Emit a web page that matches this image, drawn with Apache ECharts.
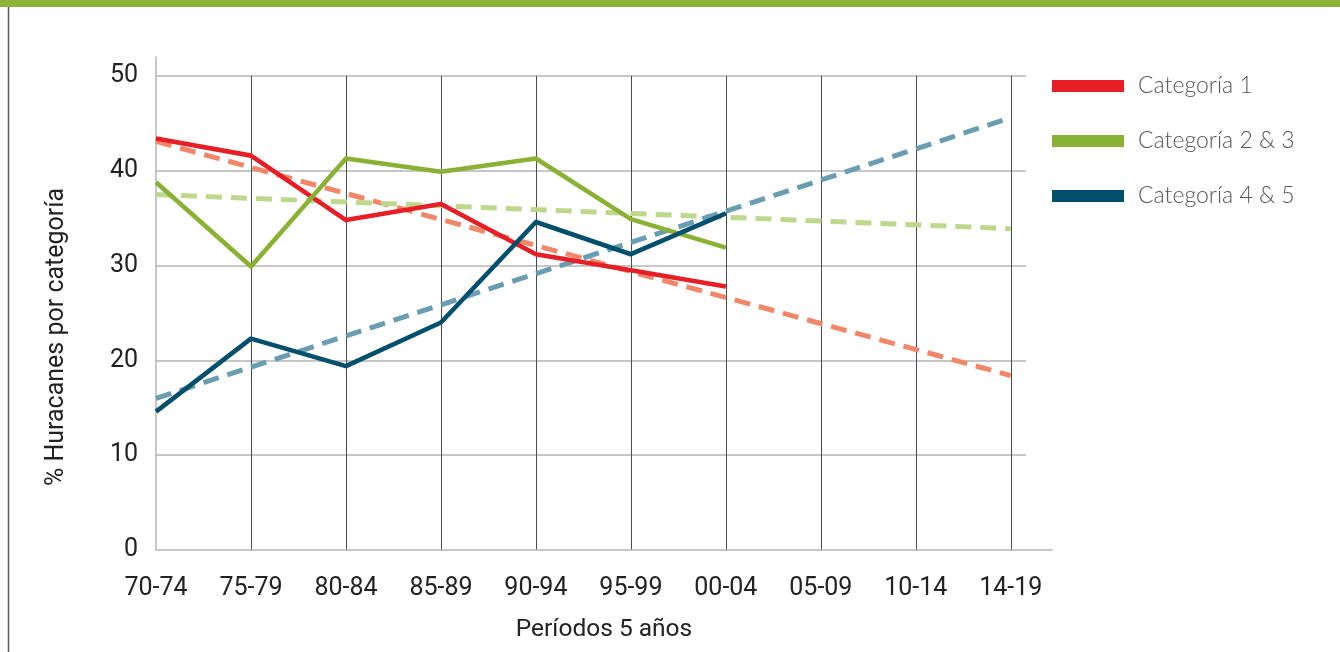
<!DOCTYPE html>
<html>
<head>
<meta charset="utf-8">
<script src="https://cdn.jsdelivr.net/npm/echarts@6/dist/echarts.min.js"></script>
<style>
  html, body { margin: 0; padding: 0; background: #fff; }
  #chart { width: 1340px; height: 652px; }
</style>
</head>
<body>
<div id="chart"></div>
<script>
// Five-year periods along the horizontal axis
const periods = ['70-74', '75-79', '80-84', '85-89', '90-94', '95-99', '00-04', '05-09', '10-14', '14-19'];

// Share of hurricanes (%) per category, observed periods
const cat1 = [43.4, 41.6, 34.8, 36.5, 31.2, 29.5, 27.8];
const cat23 = [38.8, 29.9, 41.3, 39.9, 41.3, 34.9, 31.9];
const cat45 = [14.6, 22.3, 19.4, 24.0, 34.6, 31.2, 35.5];

// Linear trends: value at the first and at the last period
const trend1 = [43.1, 18.4];
const trend23 = [37.5, 33.9];
const trend45 = [16.0, 45.6];

const seriesNames = ['Categoría 1', 'Categoría 2 & 3', 'Categoría 4 & 5'];
const yTicks = [0, 10, 20, 30, 40, 50];

const colors = { c1: '#e61f27', c23: '#8bb036', c45: '#024f6d' };
const trendColors = { c1: '#f0876a', c23: '#bdd78c', c45: '#6a9db1' };

const FONT = 'Roboto, "Noto Sans", sans-serif';

const toPoints = vals => vals.map((v, i) => [i, v]);
const trendPoints = t => [[0, t[0]], [periods.length - 1, t[1]]];

const chart = echarts.init(document.getElementById('chart'), null, { renderer: 'canvas' });

function solid(name, data, color) {
  return {
    name, type: 'line', data: toPoints(data), xAxisIndex: 0, yAxisIndex: 0,
    symbol: 'none', z: 3,
    lineStyle: { color, width: 4.6, join: 'round' },
    itemStyle: { color }
  };
}
function dashed(data, color) {
  return {
    type: 'line', data: trendPoints(data), xAxisIndex: 0, yAxisIndex: 0,
    symbol: 'none', z: 2, silent: true,
    lineStyle: { color, width: 5, type: [16, 9], cap: 'butt' }
  };
}

chart.setOption({
  animation: false,
  backgroundColor: '#fff',
  graphic: [
    { type: 'rect', shape: { x: 0, y: 0, width: 1340, height: 7 }, style: { fill: '#8cb23a' } },
    { type: 'line', shape: { x1: 8.5, y1: 7, x2: 8.5, y2: 652 }, style: { stroke: '#5a5a5a', lineWidth: 1.5 } },
    {
      type: 'text', x: 57, y: 337, rotation: Math.PI / 2,
      style: {
        text: '% Huracanes por categoría', fill: '#222', font: '25px ' + FONT,
        textAlign: 'center', textVerticalAlign: 'middle'
      }
    }
  ],
  legend: {
    data: seriesNames,
    orient: 'vertical',
    left: 1052, top: 73.5,
    padding: 0,
    icon: 'rect',
    itemWidth: 72, itemHeight: 12,
    itemGap: 30,
    textStyle: { fontFamily: 'Lato, ' + FONT, fontSize: 23, fontWeight: 300, color: '#555', lineHeight: 25, padding: [0, 0, 0, 9] }
  },
  grid: [
    { left: 156, right: 314, top: 76, bottom: 102 },
    { left: 156, right: 288, top: 57, bottom: 102 }
  ],
  xAxis: [
    {
      gridIndex: 0, type: 'value', min: 0, max: 9.16, interval: 1,
      axisLine: { show: false }, axisTick: { show: false },
      splitLine: { show: true, showMinLine: false, showMaxLine: false, lineStyle: { color: '#4a4a4a', width: 1 } },
      axisLabel: {
        margin: 26, fontFamily: FONT, fontSize: 25, color: '#222',
        showMaxLabel: false,
        formatter: v => (Number.isInteger(v) && periods[v] !== undefined) ? periods[v] : ''
      }
    },
    {
      gridIndex: 1, type: 'value', min: 0, max: 1,
      axisLine: { show: true, lineStyle: { color: '#b5b5b5', width: 1.5 } },
      axisTick: { show: false }, axisLabel: { show: false }, splitLine: { show: false },
      name: 'Períodos 5 años', nameLocation: 'middle', nameGap: 67,
      nameTextStyle: { fontFamily: FONT, fontSize: 24.5, color: '#222' }
    }
  ],
  yAxis: [
    {
      gridIndex: 0, type: 'value', min: yTicks[0], max: yTicks[yTicks.length - 1], interval: 10,
      axisLine: { show: false }, axisTick: { show: false },
      splitLine: { show: true, showMinLine: false, lineStyle: { color: '#b5b5b5', width: 1.5 } },
      axisLabel: { margin: 18, fontFamily: FONT, fontSize: 25, color: '#222' }
    },
    {
      gridIndex: 1, type: 'value', min: 0, max: 1,
      axisLine: { show: true, lineStyle: { color: '#b5b5b5', width: 1.5 } },
      axisTick: { show: false }, axisLabel: { show: false }, splitLine: { show: false }
    }
  ],
  series: [
    dashed(trend1, trendColors.c1),
    dashed(trend23, trendColors.c23),
    dashed(trend45, trendColors.c45),
    solid(seriesNames[0], cat1, colors.c1),
    solid(seriesNames[1], cat23, colors.c23),
    solid(seriesNames[2], cat45, colors.c45)
  ]
});
</script>
</body>
</html>
